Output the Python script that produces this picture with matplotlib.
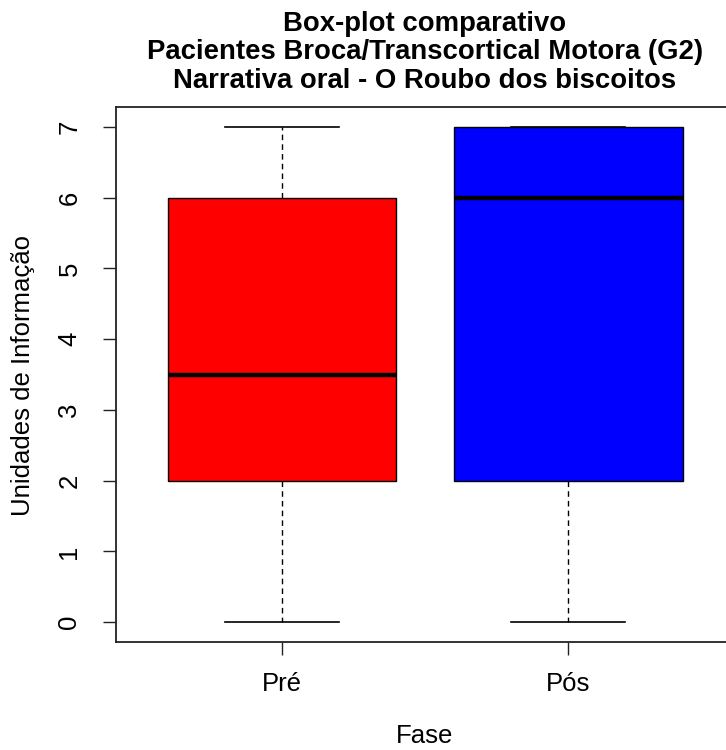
import matplotlib
matplotlib.use("Agg")
import matplotlib.pyplot as plt

plt.rcParams['font.family'] = ['Liberation Sans', 'DejaVu Sans']

# Five-number summaries per phase (lower whisker, Q1, median, Q3, upper whisker)
fases = ['Pré', 'Pós']
whislo = [0, 0]
q1 = [2, 2]
med = [3.5, 6]
q3 = [6, 7]
whishi = [7, 7]
cores = ['#ff0000', '#0000ff']

titulo = ('Box-plot comparativo\n'
          'Pacientes Broca/Transcortical Motora (G2)\n'
          'Narrativa oral - O Roubo dos biscoitos')

stats = [dict(label=f, whislo=lo, q1=a, med=m, q3=b, whishi=hi, fliers=[])
         for f, lo, a, m, b, hi in zip(fases, whislo, q1, med, q3, whishi)]

fig = plt.figure(figsize=(7.26, 7.5), dpi=100)
ax = fig.add_axes([116 / 726, 108 / 750, 618 / 726, 535 / 750])

bp = ax.bxp(stats, positions=[1, 2], widths=0.8, capwidths=0.4,
            patch_artist=True, showfliers=False,
            boxprops=dict(edgecolor='black', linewidth=1.0),
            medianprops=dict(color='black', linewidth=3.2, solid_capstyle='butt'),
            whiskerprops=dict(color='black', linewidth=1.0, linestyle=(0, (4, 3))),
            capprops=dict(color='black', linewidth=1.2))
for caixa, cor in zip(bp['boxes'], cores):
    caixa.set_facecolor(cor)

ax.set_xlim(0.42, 2.58)
ax.set_ylim(-0.28, 7.28)
ax.set_yticks(range(0, 8))
ax.set_xticks([1, 2])
ax.set_xticklabels(fases)
for s in ax.spines.values():
    s.set_linewidth(1.3)
    s.set_color('#222222')
# the plot frame runs past the right edge of the image
ax.spines['right'].set_visible(False)

ax.tick_params(axis='both', length=9.5, width=1.0, color='#222222', labelsize=18.5)
ax.tick_params(axis='x', pad=12)
ax.tick_params(axis='y', pad=24)
for lab in ax.get_yticklabels():
    lab.set_rotation(90)
    lab.set_va('center')
    lab.set_ha('center')

fig.text(425 / 726, 1 - 11 / 750, titulo, ha='center', va='top',
         fontsize=19.8, fontweight='bold', linespacing=1.12)
fig.text(425 / 726, 1 - 736 / 750, 'Fase', ha='center', va='center', fontsize=18.5)
fig.text(23 / 726, 1 - 375 / 750, 'Unidades de Informação', ha='center', va='center',
         rotation=90, fontsize=18.5)

fig.savefig('out.png', dpi=100)
